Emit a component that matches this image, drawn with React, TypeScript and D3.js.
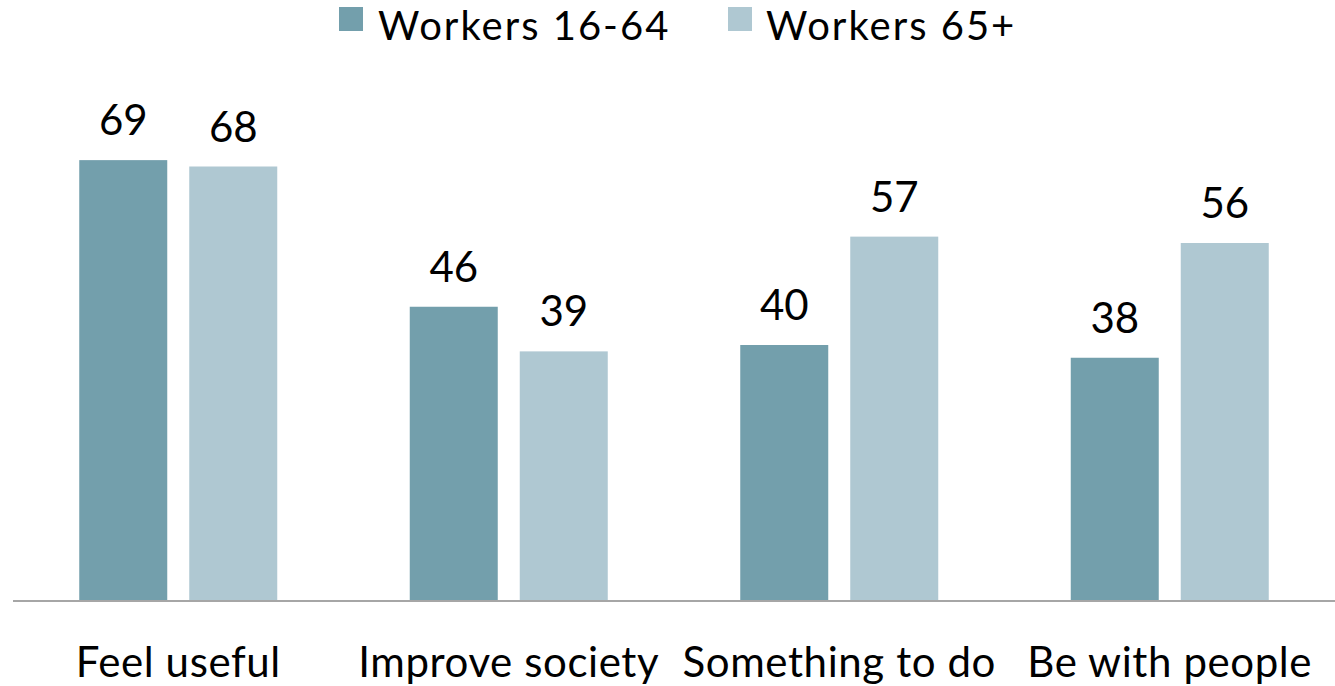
import React from "react";
import * as d3 from "d3";

const categories = ["Feel useful", "Improve society", "Something to do", "Be with people"];
const seriesNames = ["Workers 16-64", "Workers 65+"];
const workers1664 = [69, 46, 40, 38];
const workers65 = [68, 39, 57, 56];
const colors = ["#739fac", "#afc8d2"];

const W = 1335;
const H = 686;
const FONT = "Lato, 'Open Sans', sans-serif";

export default function App() {
  const x0 = d3.scaleBand<string>().domain(categories).range([13, 1335]).paddingInner(0).paddingOuter(0);
  const groupW = 198;
  const y = d3.scaleLinear().domain([0, 80]).range([600, 90]);
  const series = [workers1664, workers65];
  const bw = 88;
  const legendX = [339, 728];
  const legendTextX = [378, 766];

  return (
    <svg width={W} height={H} style={{ position: "absolute", left: 0, top: 0, background: "#fff" }}>
      {categories.map((c, i) => {
        const gx = (x0(c) as number) + (x0.bandwidth() - groupW) / 2;
        return (
          <g key={c}>
            {series.map((s, j) => {
              const bx = gx + j * (bw + 22);
              return (
                <g key={j}>
                  <rect x={bx} y={y(s[i])} width={bw} height={y(0) - y(s[i])} fill={colors[j]} />
                  <text x={bx + bw / 2} y={y(s[i]) - 25} textAnchor="middle" fontFamily={FONT} fontSize={42} fill="#000">
                    {s[i]}
                  </text>
                </g>
              );
            })}
            <text x={(x0(c) as number) + x0.bandwidth() / 2} y={677} textAnchor="middle" fontFamily={FONT} fontSize={42} letterSpacing={0.6} fill="#000">
              {c}
            </text>
          </g>
        );
      })}
      <line x1={13} x2={1335} y1={y(0) + 1} y2={y(0) + 1} stroke="#a6a6a6" strokeWidth={2} />
      {seriesNames.map((n, j) => (
        <g key={n}>
          <rect x={legendX[j]} y={7} width={24} height={24} fill={colors[j]} />
          <text x={legendTextX[j]} y={40} fontFamily={FONT} fontSize={40} letterSpacing={2} fill="#000">
            {n}
          </text>
        </g>
      ))}
    </svg>
  );
}
